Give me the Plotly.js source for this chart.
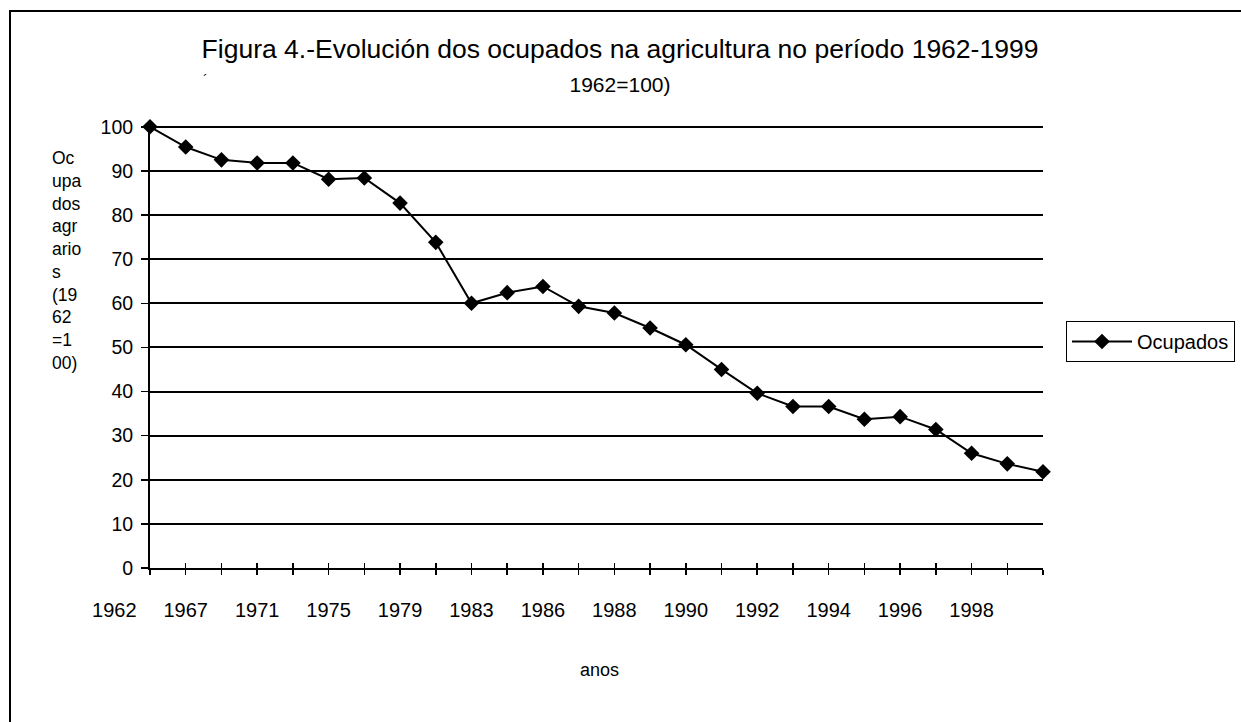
<!DOCTYPE html>
<html><head><meta charset="utf-8">
<script src="https://cdn.plot.ly/plotly-3.0.1.min.js"></script>
<style>
html,body{margin:0;padding:0;overflow:hidden;background:#fff}
#chart{position:absolute;left:0;top:0;width:1241px;height:722px}
#frame{position:absolute;left:9px;top:10px;width:1400px;height:900px;border:2.5px solid #000;pointer-events:none}
</style>
</head><body>
<div id="chart"></div><div id="frame"></div>
<script>
// ---- data ----
const seriesName = 'Ocupados';
const ocupados = [100, 95.4, 92.5, 91.8, 91.8, 88.1, 88.4, 82.7, 73.8, 60.0, 62.4, 63.8, 59.3,
                  57.8, 54.4, 50.6, 45.0, 39.6, 36.6, 36.6, 33.7, 34.3, 31.4, 26.0, 23.6, 21.8];
const tickLabels = ['1962','1967','1971','1975','1979','1983','1986','1988','1990','1992','1994','1996','1998'];
const yTicks = [0,10,20,30,40,50,60,70,80,90,100];
const titleLine1 = 'Figura 4.-Evolución dos ocupados na agricultura no período 1962-1999';
const titleLine2 = '1962=100)';
const yTitleLines = ['Oc','upa','dos','agr','ario','s','(19','62','=1','00)'];
const xTitle = 'anos';

// ---- layout helpers ----
const W = 1241, H = 722, L = 100, R = 198, T = 125, B = 154;
const pw = W - L - R, ph = H - T - B;
const n = ocupados.length;
const xIdx = ocupados.map((_, i) => i);
const axisLeft = 50;                 // px from plot-area left to y axis
const step = (pw - axisLeft) / (n - 1);
const d0 = axisLeft / pw;
const d2 = (axisLeft - step) / pw;
const labelPos = tickLabels.map((_, i) => 2 * i - 1);
const FONT = 'Liberation Sans, Arial, sans-serif';

const traces = [
  {x: xIdx, y: ocupados, name: seriesName, type: 'scatter', mode: 'lines+markers',
   xaxis: 'x', yaxis: 'y', cliponaxis: false,
   line: {color: '#000', width: 2},
   marker: {symbol: 'diamond', size: 12, color: '#000'}},
  {x: labelPos, y: labelPos.map(() => null), xaxis: 'x2', yaxis: 'y2', type: 'scatter',
   mode: 'markers', showlegend: false, hoverinfo: 'skip'},
  {x: xIdx, y: xIdx.map(() => null), xaxis: 'x3', yaxis: 'y', type: 'scatter',
   mode: 'markers', showlegend: false, hoverinfo: 'skip'}
];

const layout = {
  width: W, height: H,
  margin: {l: L, r: R, t: T, b: B, autoexpand: false},
  paper_bgcolor: 'rgba(0,0,0,0)', plot_bgcolor: 'rgba(0,0,0,0)',
  font: {family: FONT, color: '#000'},
  showlegend: true,
  title: {
    text: titleLine1 + '<br><span style="font-size:21px">' + titleLine2 + '</span>',
    font: {family: FONT, size: 26.5, color: '#000'},
    x: 620 / W, xref: 'container', xanchor: 'center',
    y: 1 - 58 / H, yref: 'container', yanchor: 'top'
  },
  xaxis: {domain: [d0, 1], anchor: 'y', range: [0, n - 1], tickmode: 'array', tickvals: xIdx,
          showticklabels: false, ticks: 'outside', ticklen: 5, tickwidth: 1.5, tickcolor: '#000',
          showline: true, linecolor: '#000', linewidth: 2, showgrid: false, zeroline: false},
  xaxis3: {overlaying: 'x', anchor: 'y', range: [0, n - 1], tickmode: 'array', tickvals: xIdx,
           showticklabels: false, ticks: 'inside', ticklen: 5, tickwidth: 1.5, tickcolor: '#000',
           showline: false, showgrid: false, zeroline: false},
  xaxis2: {domain: [d2, 1], anchor: 'y2', range: [-1, n - 1], tickmode: 'array',
           tickvals: labelPos, ticktext: tickLabels, ticks: 'outside', ticklen: 24,
           tickcolor: 'rgba(0,0,0,0)', showline: false, showgrid: false, zeroline: false,
           tickfont: {family: FONT, size: 20, color: '#000'}},
  yaxis: {domain: [0, 1], anchor: 'x', range: [0, 100.4], tickmode: 'array', tickvals: yTicks,
          ticks: 'outside', ticklen: 7, tickwidth: 1.5, tickcolor: '#000', ticklabelstandoff: 4,
          showline: true, linecolor: '#000', linewidth: 2,
          showgrid: true, gridcolor: '#000', gridwidth: 2, zeroline: false,
          tickfont: {family: FONT, size: 19.5, color: '#000'}},
  yaxis2: {domain: [0, 1], anchor: 'x2', range: [0, 100.4], visible: false},
  legend: {xref: 'container', x: 1066 / W, xanchor: 'left',
           yref: 'container', y: 1 - 341.5 / H, yanchor: 'middle',
           bgcolor: '#fff', bordercolor: '#000', borderwidth: 1, itemwidth: 60,
           font: {family: FONT, size: 20, color: '#000'}},
  annotations: [
    {text: yTitleLines.join('<br>'), xref: 'paper', yref: 'paper',
     x: (50 - L) / pw, xanchor: 'left', y: (H - B - 260) / ph, yanchor: 'middle',
     align: 'left', showarrow: false, font: {family: FONT, size: 17.5, color: '#000'}},
    {text: xTitle, xref: 'paper', yref: 'paper', x: (599 - L) / pw, xanchor: 'center',
     y: (H - B - 670) / ph, yanchor: 'middle', showarrow: false,
     font: {family: FONT, size: 18, color: '#000'}},
    {text: '´', xref: 'paper', yref: 'paper', x: (205 - L) / pw, xanchor: 'center',
     y: (H - B - 80) / ph, yanchor: 'middle', showarrow: false,
     font: {family: FONT, size: 14, color: '#000'}}
  ]
};

Plotly.newPlot('chart', traces, layout, {displayModeBar: false, staticPlot: true});
</script>
</body></html>
